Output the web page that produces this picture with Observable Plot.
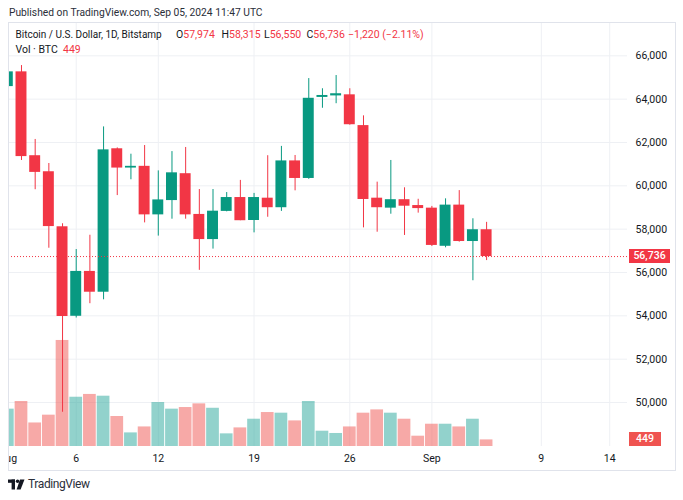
<!DOCTYPE html>
<html><head><meta charset="utf-8">
<script src="https://cdn.jsdelivr.net/npm/d3@7"></script>
<script src="https://cdn.jsdelivr.net/npm/@observablehq/plot@0.6"></script>
<style>
html,body{margin:0;padding:0;background:#fff;}
body{width:683px;height:500px;position:relative;overflow:hidden;font-family:Roboto,"Noto Sans",sans-serif;color:#131722;}
.abs{position:absolute;white-space:nowrap;line-height:14px;}
#pub{left:9px;top:6px;font-size:10.25px;color:#2a2e39;}
#chart{position:absolute;left:8px;top:22px;width:667px;height:448px;overflow:hidden;}
#border{position:absolute;left:8px;top:22px;width:668px;height:449px;box-sizing:border-box;border:1px solid #e0e3eb;pointer-events:none;}
.lg{font-size:10.5px;}
.red{color:#f23645;}
.box{position:absolute;color:#fff;font-size:10.5px;font-weight:500;text-align:center;line-height:14px;height:14px;}
#foot{left:28px;top:477px;font-size:12px;letter-spacing:-0.4px;color:#2a2e39;}
</style>
</head><body>
<div id="pub" class="abs">Published on TradingView.com, Sep 05, 2024 11:47 UTC</div>
<div id="chart"></div>
<div id="border"></div>
<div class="abs lg" style="left:15.5px;top:28px;font-size:10px;">Bitcoin / U.S. Dollar, 1D, Bitstamp</div>
<div class="abs lg" style="left:176px;top:28px;">O<span class="red">57,974</span></div>
<div class="abs lg" style="left:221.5px;top:28px;">H<span class="red">58,315</span></div>
<div class="abs lg" style="left:264px;top:28px;">L<span class="red">56,550</span></div>
<div class="abs lg" style="left:306.5px;top:28px;">C<span class="red">56,736</span></div>
<div class="abs lg red" style="left:348px;top:28px;">−1,220 (−2.11%)</div>
<div class="abs lg" style="left:15.5px;top:43px;">Vol · BTC</div>
<div class="abs lg red" style="left:63px;top:43px;">449</div>
<svg class="abs" style="left:8px;top:479px;" width="17" height="11" viewBox="0 0 17 11">
  <rect x="0" y="0.5" width="7" height="3.3" fill="#131722"/>
  <rect x="3.6" y="0.5" width="3.4" height="10" fill="#131722"/>
  <circle cx="9.6" cy="2.3" r="1.8" fill="#131722"/>
  <polygon points="12,0.5 16.5,0.5 12.6,10.5 8.6,10.5" fill="#131722"/>
</svg>
<div id="foot" class="abs">TradingView</div>
<script>
// ---- data ----
const dates = ["2024-08-01","2024-08-02","2024-08-03","2024-08-04","2024-08-05","2024-08-06","2024-08-07","2024-08-08","2024-08-09","2024-08-10","2024-08-11","2024-08-12","2024-08-13","2024-08-14","2024-08-15","2024-08-16","2024-08-17","2024-08-18","2024-08-19","2024-08-20","2024-08-21","2024-08-22","2024-08-23","2024-08-24","2024-08-25","2024-08-26","2024-08-27","2024-08-28","2024-08-29","2024-08-30","2024-08-31","2024-09-01","2024-09-02","2024-09-03","2024-09-04","2024-09-05"];
const open  = [64580,65260,61390,60650,58110,53980,56050,55090,61710,60820,60900,58660,59320,60560,58680,57520,58820,59460,58400,59430,58990,61150,60340,64080,64150,64200,62780,59430,58970,59360,59090,58970,57210,59110,57430,57974];
const high  = [65600,65550,62140,61030,58250,57060,57720,62720,61750,61460,61860,60690,61580,61770,59830,59830,59690,60250,59650,61390,61820,61400,64950,64480,65090,64480,63230,60170,61170,59910,59380,59050,59400,59780,58480,58315];
const low   = [62300,61170,59820,57120,49550,53900,54560,54740,59550,60280,58290,57680,58460,58460,56100,57080,58800,58390,57830,58550,58820,59770,60300,63580,63790,62800,58060,57860,58690,57710,58740,57200,57140,57400,55620,56550];
const close = [65260,61350,60620,58120,53970,56050,55090,61660,60820,60900,58660,59350,60600,58660,57520,58830,59460,58390,59460,58990,61150,60340,64040,64170,64250,62820,59370,58990,59360,59060,58950,57250,59110,57430,57974,56736];
const volume= [2540,3060,1600,2130,7210,3350,3540,3420,2040,925,1330,2990,2540,2650,2900,2600,860,1265,1855,2310,2265,1740,3060,1040,885,1330,2265,2490,2265,1855,700,1515,1515,1330,1855,449];
const priceTicks = [50000,52000,54000,56000,58000,60000,62000,64000,66000];
const timeTicks = ["2024-08-01","2024-08-06","2024-08-12","2024-08-19","2024-08-26","2024-09-01","2024-09-09","2024-09-14"];
const timeLabels = ["Aug","6","12","19","26","Sep","9","14"];
const lastPrice = 56736;
const lastVolume = 449;

// ---- layout / style constants ----
const DAY = 864e5;
const T0 = Date.UTC(2024,7,1);
const X_DOMAIN = [new Date(T0 + 0.05*DAY), new Date(T0 + 45.3*DAY)];
const Y_MIN = 47970, Y_MAX = 67538;
const VOL_TOP = 28832; // volume value at top of the pane
const volToY = v => Y_MIN + v * (Y_MAX - Y_MIN) / VOL_TOP;
const UP = "#089981", DOWN = "#f23645";
const VUP = "#26a69a", VDOWN = "#ef5350";
const GRID = "#eef0f4";

const rows = dates.map((d,i) => ({
  date: new Date(d + "T00:00:00Z"),
  o: open[i], h: high[i], l: low[i], c: close[i], v: volume[i],
  up: close[i] >= open[i]
}));
const tickDates = timeTicks.map(d => new Date(d + "T00:00:00Z"));
const labelOf = new Map(tickDates.map((d,i) => [+d, timeLabels[i]]));

const chart = Plot.plot({
  width: 667, height: 448,
  marginLeft: 0, marginRight: 48, marginTop: 0, marginBottom: 24,
  style: {fontFamily: "Roboto, 'Noto Sans', sans-serif", fontSize: "10.5px", color: "#131722", background: "transparent"},
  x: {type: "utc", domain: X_DOMAIN},
  y: {domain: [Y_MIN, Y_MAX]},
  marks: [
    Plot.ruleY(priceTicks, {stroke: GRID}),
    Plot.ruleX(tickDates, {stroke: GRID}),
    Plot.rectY(rows, {
      x1: d => new Date(+d.date - 0.465*DAY), x2: d => new Date(+d.date + 0.465*DAY),
      y1: () => Y_MIN, y2: d => volToY(d.v),
      fill: d => d.up ? VUP : VDOWN, fillOpacity: 0.5
    }),
    Plot.ruleX(rows, {x: "date", y1: "l", y2: "h", stroke: d => d.up ? UP : DOWN, strokeWidth: 1}),
    Plot.rectY(rows, {
      x1: d => new Date(+d.date - 0.4*DAY), x2: d => new Date(+d.date + 0.4*DAY),
      y1: d => Math.min(d.o, d.c), y2: d => Math.max(d.o, d.c),
      fill: d => d.up ? UP : DOWN
    }),
    Plot.ruleY([lastPrice], {stroke: DOWN, strokeDasharray: "1 2", strokeWidth: 1}),
    Plot.axisY(priceTicks, {anchor: "right", tickSize: 0, tickPadding: 8, tickFormat: d3.format(","), label: null}),
    Plot.axisX(tickDates, {anchor: "bottom", tickSize: 0, tickPadding: 8, tickFormat: d => labelOf.get(+d), label: null})
  ]
});
document.getElementById("chart").appendChild(chart);

// price & volume labels on the price scale
const ys = chart.scale("y");
const addBox = (val, text, color, w) => {
  const b = document.createElement("div");
  b.className = "box";
  b.textContent = text;
  b.style.background = color;
  b.style.left = (8 + 621) + "px";
  b.style.width = w + "px";
  b.style.top = (22 + ys.apply(val) - 7) + "px";
  document.body.appendChild(b);
};
addBox(lastPrice, d3.format(",")(lastPrice), DOWN, 41);
addBox(volToY(lastVolume), String(lastVolume), VDOWN, 32);
</script>
</body></html>
